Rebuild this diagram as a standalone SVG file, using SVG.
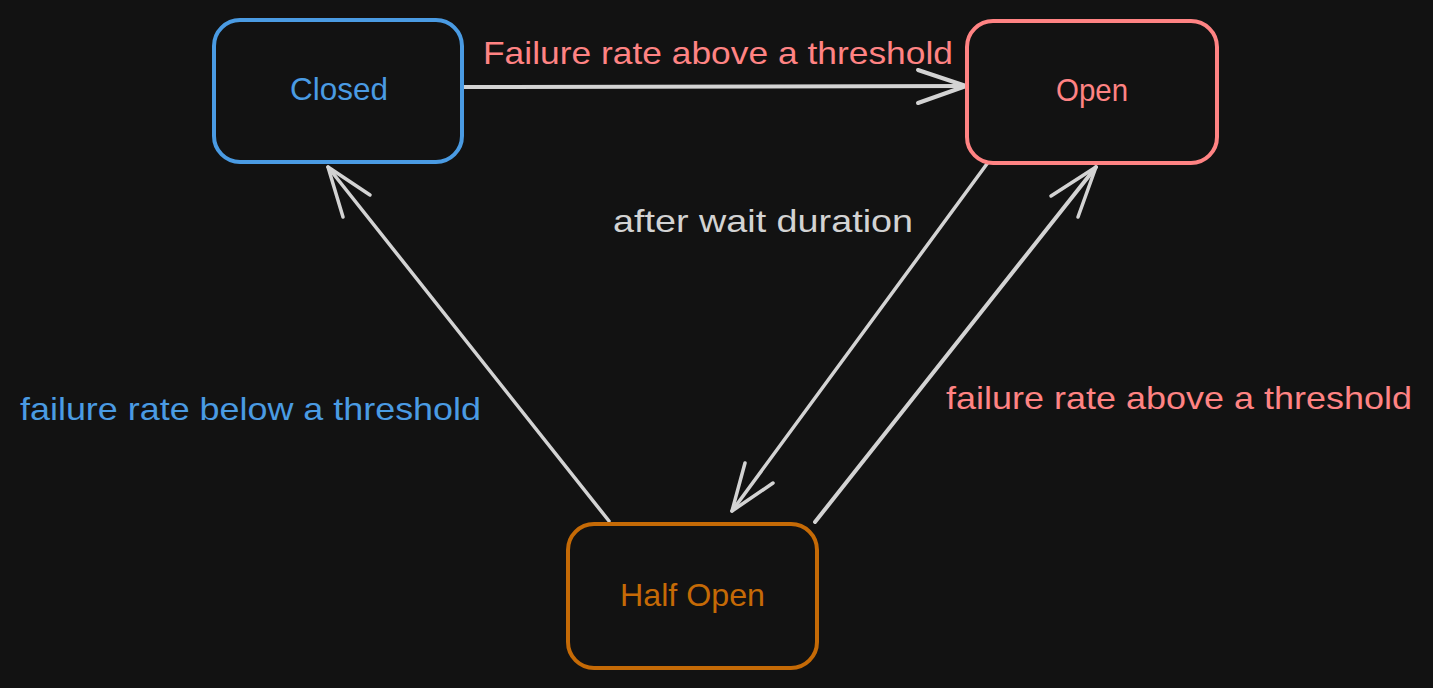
<svg xmlns="http://www.w3.org/2000/svg" width="1433" height="688" viewBox="0 0 1433 688">
<style>
.box{fill:#121212;stroke-width:4;}
.lbl{font-family:"Liberation Sans",Arial,sans-serif;font-size:32px;}
.conn{fill:none;stroke:#d3d3d3;stroke-linecap:round;stroke-linejoin:round;}
.blue{fill:#4a9be3;}
.red{fill:#ff8383;}
.orange{fill:#c56a06;}
.gray{fill:#d3d3d3;}
</style>
<rect width="1433" height="688" fill="#121212"/>
<g id="connectors">
  <g id="closed-to-open">
    <path class="conn" stroke-width="4" d="M464 87 L966 86"/>
    <path class="conn" stroke-width="4" d="M918 70 L966 86 L918 103"/>
  </g>
  <g id="half-to-closed">
    <path class="conn" stroke-width="3.5" d="M609 521 L328 167"/>
    <path class="conn" stroke-width="3.5" d="M343 217 L328 167 L370 195"/>
  </g>
  <g id="open-to-half">
    <path class="conn" stroke-width="3.5" d="M992 157 L732 511"/>
    <path class="conn" stroke-width="3.5" d="M745 463 L732 511 L773 483"/>
  </g>
  <g id="half-to-open">
    <path class="conn" stroke-width="4" d="M815 522 L1096 167"/>
    <path class="conn" stroke-width="3.5" d="M1051 196 L1096 167 L1078 217"/>
  </g>
  <text class="lbl red" x="483" y="64" textLength="470" lengthAdjust="spacingAndGlyphs">Failure rate above a threshold</text>
  <text class="lbl gray" x="613" y="232" textLength="300" lengthAdjust="spacingAndGlyphs">after wait duration</text>
  <text class="lbl blue" x="20" y="420" textLength="461" lengthAdjust="spacingAndGlyphs">failure rate below a threshold</text>
  <text class="lbl red" x="946" y="409" textLength="466" lengthAdjust="spacingAndGlyphs">failure rate above a threshold</text>
</g>
<g id="closed">
  <rect class="box" x="214" y="20" width="248" height="142" rx="26" stroke="#4a9be3"/>
  <text class="lbl blue" x="290" y="100" textLength="98" lengthAdjust="spacingAndGlyphs">Closed</text>
</g>
<g id="open">
  <rect class="box" x="967" y="21" width="250" height="142" rx="26" stroke="#ff8383"/>
  <text class="lbl red" x="1056" y="101" textLength="72" lengthAdjust="spacingAndGlyphs">Open</text>
</g>
<g id="half-open">
  <rect class="box" x="568" y="524" width="249" height="144" rx="26" stroke="#c56a06"/>
  <text class="lbl orange" x="620" y="606" textLength="145" lengthAdjust="spacingAndGlyphs">Half Open</text>
</g>
</svg>
